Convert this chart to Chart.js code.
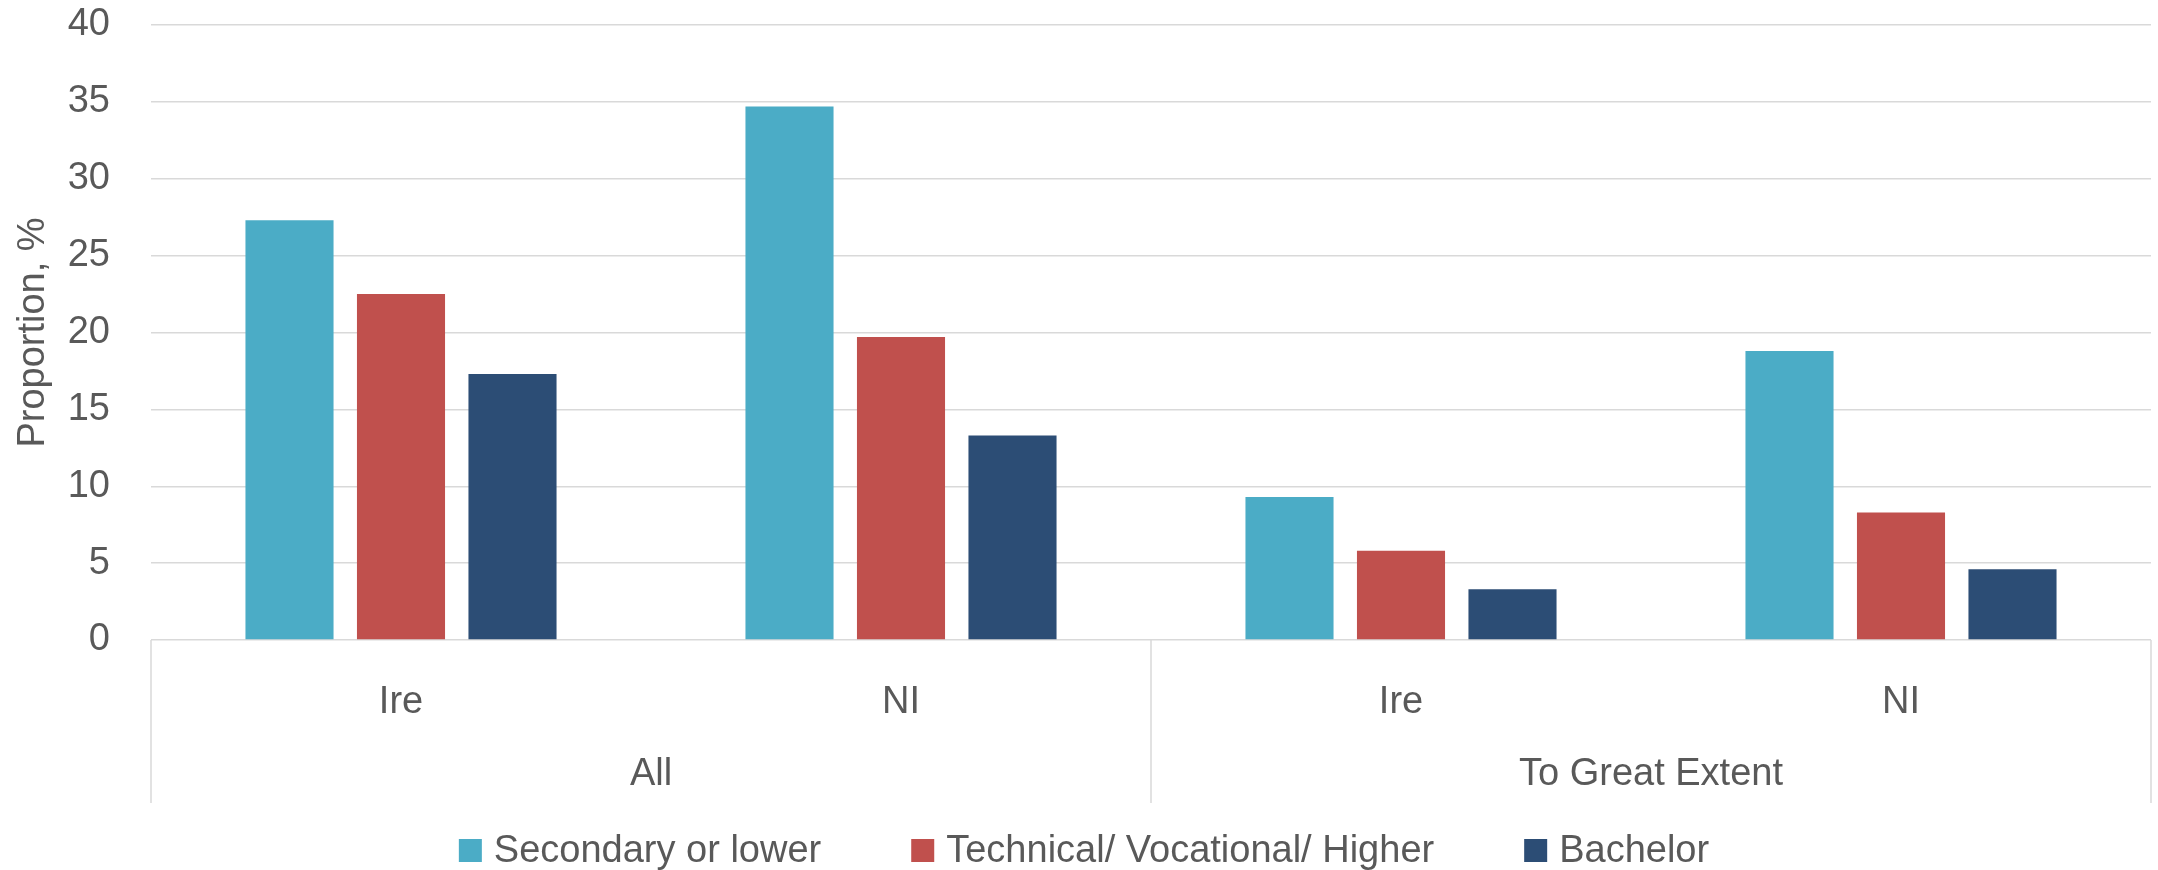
<!DOCTYPE html>
<html lang="en">

<head>
    <meta charset="UTF-8">
    <title>Proportion by education</title>
    <style>
        body { margin: 0; background: #fff; }
    </style>
</head>

<body>
    <canvas id="myChart" width="2158" height="870"></canvas>

    <script src="https://cdn.jsdelivr.net/npm/chart.js"></script>

    <script>
        // categories (inner level) and groups (outer level)
        const categories = ['Ire', 'NI', 'Ire', 'NI'];
        const groupLabels = ['All', 'To Great Extent'];
        const groupSizes = [2, 2];

        // series values, %
        const secondary = [27.3, 34.7, 9.3, 18.8];
        const technical = [22.5, 19.7, 5.8, 8.3];
        const bachelor = [17.3, 13.3, 3.3, 4.6];

        const seriesNames = ['Secondary or lower', 'Technical/ Vocational/ Higher', 'Bachelor'];
        const seriesColors = ['#4BACC6', '#C0504D', '#2C4D75'];

        // y ticks
        const yMin = 0;
        const yMax = 40;
        const yStep = 5;

        const textColor = '#595959';
        const gridColor = '#d9d9d9';
        const fontFamily = '"Liberation Sans", Arial, sans-serif';
        const fontSize = 38;

        // outer labels, dividers and legend are drawn here
        const groupPlugin = {
            id: 'groups',
            afterDraw(chart) {
                const ctx = chart.ctx;
                const xs = chart.scales.x;
                const area = chart.chartArea;

                ctx.save();
                ctx.strokeStyle = gridColor;
                ctx.lineWidth = 1.5;
                ctx.fillStyle = textColor;
                ctx.font = fontSize + 'px ' + fontFamily;
                ctx.textAlign = 'center';
                ctx.textBaseline = 'middle';

                let divBottom = area.bottom + 163;
                let idx = 0;
                let edges = [area.left];
                groupSizes.forEach(function(n, g) {
                    let first = idx;
                    let last = idx + n - 1;
                    let cx = (xs.getPixelForValue(first) + xs.getPixelForValue(last)) / 2;
                    ctx.fillText(groupLabels[g], cx, area.bottom + 135);
                    idx += n;
                    if (idx < categories.length) {
                        edges.push((xs.getPixelForValue(idx - 1) + xs.getPixelForValue(idx)) / 2);
                    }
                });
                edges.push(area.right);

                edges.forEach(function(ex) {
                    ctx.beginPath();
                    ctx.moveTo(ex, area.bottom);
                    ctx.lineTo(ex, divBottom);
                    ctx.stroke();
                });

                // legend
                let box = 23;
                let textGap = 12;
                let itemGap = 90;
                let widths = seriesNames.map(s => ctx.measureText(s).width);
                let total = 0;
                widths.forEach(function(w, i) {
                    total += box + textGap + w + (i < widths.length - 1 ? itemGap : 0);
                });
                let lx = 1084 - total / 2;
                let baseY = 862;
                ctx.textAlign = 'left';
                ctx.textBaseline = 'alphabetic';
                chart.data.datasets.forEach(function(ds, i) {
                    ctx.fillStyle = ds.backgroundColor;
                    ctx.fillRect(lx, baseY - box, box, box);
                    ctx.fillStyle = textColor;
                    ctx.fillText(ds.label, lx + box + textGap, baseY);
                    lx += box + textGap + widths[i] + itemGap;
                });

                ctx.restore();
            }
        };

        const ctx = document.getElementById('myChart');

        let chart = new Chart(ctx, {
            type: 'bar',
            data: {
                labels: categories,
                datasets: [{
                    label: seriesNames[0],
                    data: secondary,
                    backgroundColor: seriesColors[0]
                },
                {
                    label: seriesNames[1],
                    data: technical,
                    backgroundColor: seriesColors[1]
                },
                {
                    label: seriesNames[2],
                    data: bachelor,
                    backgroundColor: seriesColors[2]
                }]
            },
            options: {
                responsive: false,
                animation: false,
                categoryPercentage: 0.669,
                barPercentage: 0.79,
                layout: {
                    padding: { left: 0, right: 7, top: 25, bottom: 0 }
                },
                plugins: {
                    legend: { display: false },
                    tooltip: { enabled: false }
                },
                scales: {
                    x: {
                        grid: { display: false },
                        border: { display: false },
                        ticks: {
                            color: textColor,
                            padding: 32,
                            font: { family: fontFamily, size: fontSize }
                        },
                        afterFit: function(scale) {
                            scale.height = 230;
                        }
                    },
                    y: {
                        min: yMin,
                        max: yMax,
                        grid: {
                            color: gridColor,
                            lineWidth: 1.5,
                            drawTicks: true,
                            tickLength: 41,
                            tickColor: 'rgba(0,0,0,0)'
                        },
                        border: { display: false },
                        ticks: {
                            stepSize: yStep,
                            color: textColor,
                            padding: 0,
                            font: { family: fontFamily, size: fontSize }
                        },
                        title: {
                            display: true,
                            text: 'Proportion, %',
                            color: textColor,
                            padding: { top: 11, bottom: 0 },
                            font: { family: fontFamily, size: fontSize }
                        },
                        afterFit: function(scale) {
                            scale.width = 151;
                        }
                    }
                }
            },
            plugins: [groupPlugin]
        });
    </script>
</body>

</html>
